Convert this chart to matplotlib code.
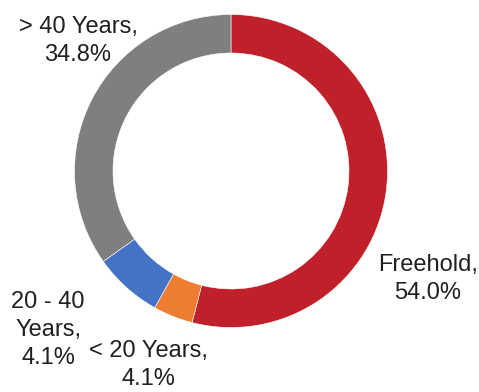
import matplotlib.pyplot as plt

plt.rcParams['font.family'] = ['Liberation Sans', 'DejaVu Sans']

# tenure categories, clockwise from 12 o'clock
categories = ['Freehold', '< 20 Years', '20 - 40 Years', '> 40 Years']
shares = [54.0, 4.1, 7.1, 34.8]
# labels as printed on the chart
label_texts = ['Freehold,\n54.0%', '< 20 Years,\n4.1%', '20 - 40\nYears,\n4.1%', '> 40 Years,\n34.8%']
colors = ['#C0202A', '#ED7D31', '#4472C4', '#7F7F7F']

W, H = 479, 392
cx, cy, R = 231, 171, 156.5   # ring centre / radius in pixels

fig = plt.figure(figsize=(W / 100, H / 100), dpi=100)
ax = fig.add_axes([0, 0, 1, 1])

ax.pie(shares, colors=colors, startangle=90, counterclock=False,
       radius=1.0, wedgeprops=dict(width=0.246, edgecolor='white', linewidth=0.4))

ax.set_xlim(-cx / R, (W - cx) / R)
ax.set_ylim(-(H - cy) / R, cy / R)
ax.set_aspect('auto')
ax.axis('off')

# label block centres in pixel coords
label_pos = [(428, 279), (148, 365), (48, 330), (78, 41)]
for txt, (px, py) in zip(label_texts, label_pos):
    ax.text((px - cx) / R, (cy - py) / R, txt, ha='center', va='center',
            fontsize=17, color='#231F20', linespacing=1.33)

fig.savefig('out.png', dpi=100)
